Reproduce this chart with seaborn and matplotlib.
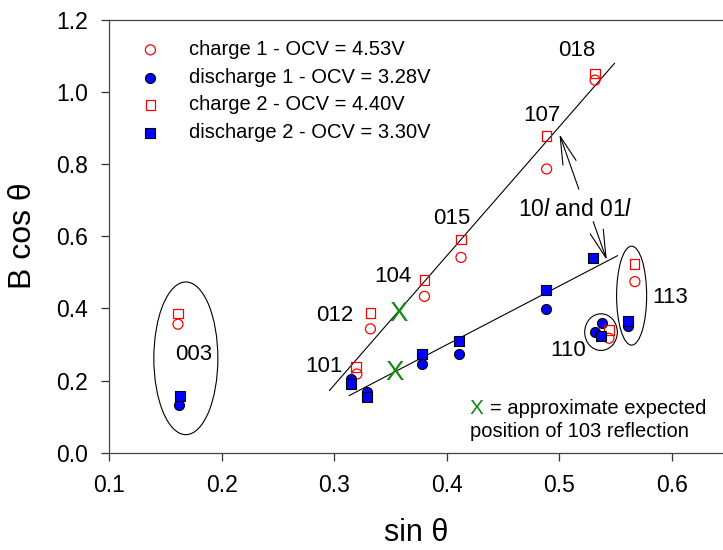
import numpy as np
import pandas as pd
import seaborn as sns
import matplotlib.pyplot as plt
from matplotlib.patches import Ellipse

# Data (sin theta, B cos theta)
charge1_x = [0.161, 0.320, 0.332, 0.380, 0.4125, 0.4886, 0.5316, 0.544, 0.567]
charge1_y = [0.356, 0.218, 0.343, 0.433, 0.541, 0.786, 1.032, 0.317, 0.474]

discharge1_x = [0.1616, 0.315, 0.3287, 0.3778, 0.411, 0.4877, 0.5378, 0.5316, 0.561]
discharge1_y = [0.132, 0.204, 0.169, 0.246, 0.273, 0.397, 0.359, 0.335, 0.352]

charge2_x = [0.161, 0.319, 0.332, 0.380, 0.4125, 0.4886, 0.5316, 0.544, 0.5665]
charge2_y = [0.386, 0.238, 0.387, 0.478, 0.591, 0.877, 1.051, 0.340, 0.522]

discharge2_x = [0.1625, 0.315, 0.3287, 0.3778, 0.411, 0.4877, 0.530, 0.537, 0.561]
discharge2_y = [0.158, 0.189, 0.153, 0.273, 0.310, 0.451, 0.539, 0.323, 0.366]

series_names = ['charge 1 - OCV = 4.53V', 'discharge 1 - OCV = 3.28V',
                'charge 2 - OCV = 4.40V', 'discharge 2 - OCV = 3.30V']

# linear fits for the 10l / 01l reflections
upper_fit_x = [0.2955, 0.549]
upper_fit_y = [0.172, 1.079]
lower_fit_x = [0.313, 0.5517]
lower_fit_y = [0.158, 0.546]

# expected 103 positions
x103_x = [0.3568, 0.3538]
x103_y = [0.384, 0.222]

# reflection labels
hkl_labels = ['003', '101', '012', '104', '015', '107', '018', '110', '113']
hkl_x = [0.175, 0.2908, 0.3007, 0.352, 0.404, 0.484, 0.515, 0.5075, 0.598]
hkl_y = [0.271, 0.238, 0.381, 0.489, 0.649, 0.934, 1.114, 0.284, 0.431]

# ellipses around groups: center x, center y, width, height
ell_cx = [0.168, 0.5369, 0.5641]
ell_cy = [0.2615, 0.334, 0.435]
ell_w = [0.0569, 0.0290, 0.0267]
ell_h = [0.423, 0.1016, 0.274]

frames = []
for name, xs, ys in zip(series_names,
                        [charge1_x, discharge1_x, charge2_x, discharge2_x],
                        [charge1_y, discharge1_y, charge2_y, discharge2_y]):
    frames.append(pd.DataFrame({'sin': xs, 'bcos': ys, 'series': name}))
df = pd.concat(frames, ignore_index=True)

sns.set_style('ticks')
plt.rcParams['font.family'] = ['Liberation Sans', 'DejaVu Sans']
plt.rcParams['mathtext.fontset'] = 'custom'
plt.rcParams['mathtext.rm'] = 'Liberation Sans'
plt.rcParams['mathtext.it'] = 'Liberation Sans:italic'
plt.rcParams['text.color'] = 'black'
plt.rcParams['axes.labelcolor'] = 'black'
plt.rcParams['xtick.labelcolor'] = 'black'
plt.rcParams['ytick.labelcolor'] = 'black'

fig = plt.figure(figsize=(7.23, 5.5), dpi=100)
ax = fig.add_axes([0.1512, 0.1769, 0.8488, 0.7876])

styles = [
    dict(marker='o', s=52, facecolor='none', edgecolor='#ff0000', color='#ff0000', linewidth=0.9),
    dict(marker='o', s=52, facecolor='#0000ff', edgecolor='black', color='#0000ff', linewidth=0.8),
    dict(marker='s', s=48, facecolor='none', edgecolor='#ff0000', color='#ff0000', linewidth=0.9),
    dict(marker='s', s=48, facecolor='#0000ff', edgecolor='black', color='#0000ff', linewidth=0.8),
]
for name, st in zip(series_names, styles):
    sub = df[df['series'] == name]
    sns.scatterplot(data=sub, x='sin', y='bcos', ax=ax, label=name, zorder=3, **st)

ax.plot(upper_fit_x, upper_fit_y, color='black', lw=0.8, zorder=2)
ax.plot(lower_fit_x, lower_fit_y, color='black', lw=0.8, zorder=2)

for cx, cy, w, h in zip(ell_cx, ell_cy, ell_w, ell_h):
    ax.add_patch(Ellipse((cx, cy), w, h, fill=False, edgecolor='black', lw=0.8, zorder=2))

for lab, tx, ty in zip(hkl_labels, hkl_x, hkl_y):
    ax.text(tx, ty, lab, fontsize=16, ha='center', va='center')

green = '#128a12'
for gx, gy in zip(x103_x, x103_y):
    ax.text(gx, gy, 'X', color=green, fontsize=20, ha='center', va='center')

ax.text(0.5138, 0.674, '10$l$ and 01$l$', fontsize=16.5, ha='center', va='center')
arrow = dict(arrowstyle='->,head_length=2.0,head_width=0.5', color='black', lw=0.8,
             shrinkA=0, shrinkB=0)
ax.annotate('', xy=(0.500, 0.882), xytext=(0.5172, 0.730), arrowprops=arrow)
ax.annotate('', xy=(0.542, 0.534), xytext=(0.530, 0.640), arrowprops=arrow)

ax.text(0.4205, 0.1238, 'X', color=green, fontsize=15, ha='left', va='center')
ax.text(0.4383, 0.1238, '= approximate expected', fontsize=14.5, ha='left', va='center')
ax.text(0.4205, 0.058, 'position of 103 reflection', fontsize=14.5, ha='left', va='center')

ax.set_xlim(0.1, 0.6453)
ax.set_ylim(0, 1.2)
ax.set_xticks([0.1, 0.2, 0.3, 0.4, 0.5, 0.6])
ax.set_xticklabels(['0.1', '0.2', '0.3', '0.4', '0.5', '0.6'])
ax.set_yticks([0.0, 0.2, 0.4, 0.6, 0.8, 1.0, 1.2])
ax.set_yticklabels(['0.0', '0.2', '0.4', '0.6', '0.8', '1.0', '1.2'])
ax.tick_params(axis='both', direction='out', length=6, width=0.9, pad=9.5,
               labelsize=16.5, color='#333333', labelcolor='black')
ax.set_xlabel('sin θ', fontsize=22, labelpad=15)
ax.set_ylabel('B cos θ', fontsize=23, labelpad=13)

for side in ['left', 'bottom', 'top']:
    ax.spines[side].set_color('#444444')
    ax.spines[side].set_linewidth(0.9)
ax.spines['right'].set_visible(False)

ax.legend(loc='upper left', bbox_to_anchor=(0.021, 0.971), borderaxespad=0,
          frameon=False, fontsize=14.5, handlelength=2.0, handletextpad=0.9,
          labelspacing=0.43, borderpad=0.4)

fig.savefig('out.png', dpi=100)
